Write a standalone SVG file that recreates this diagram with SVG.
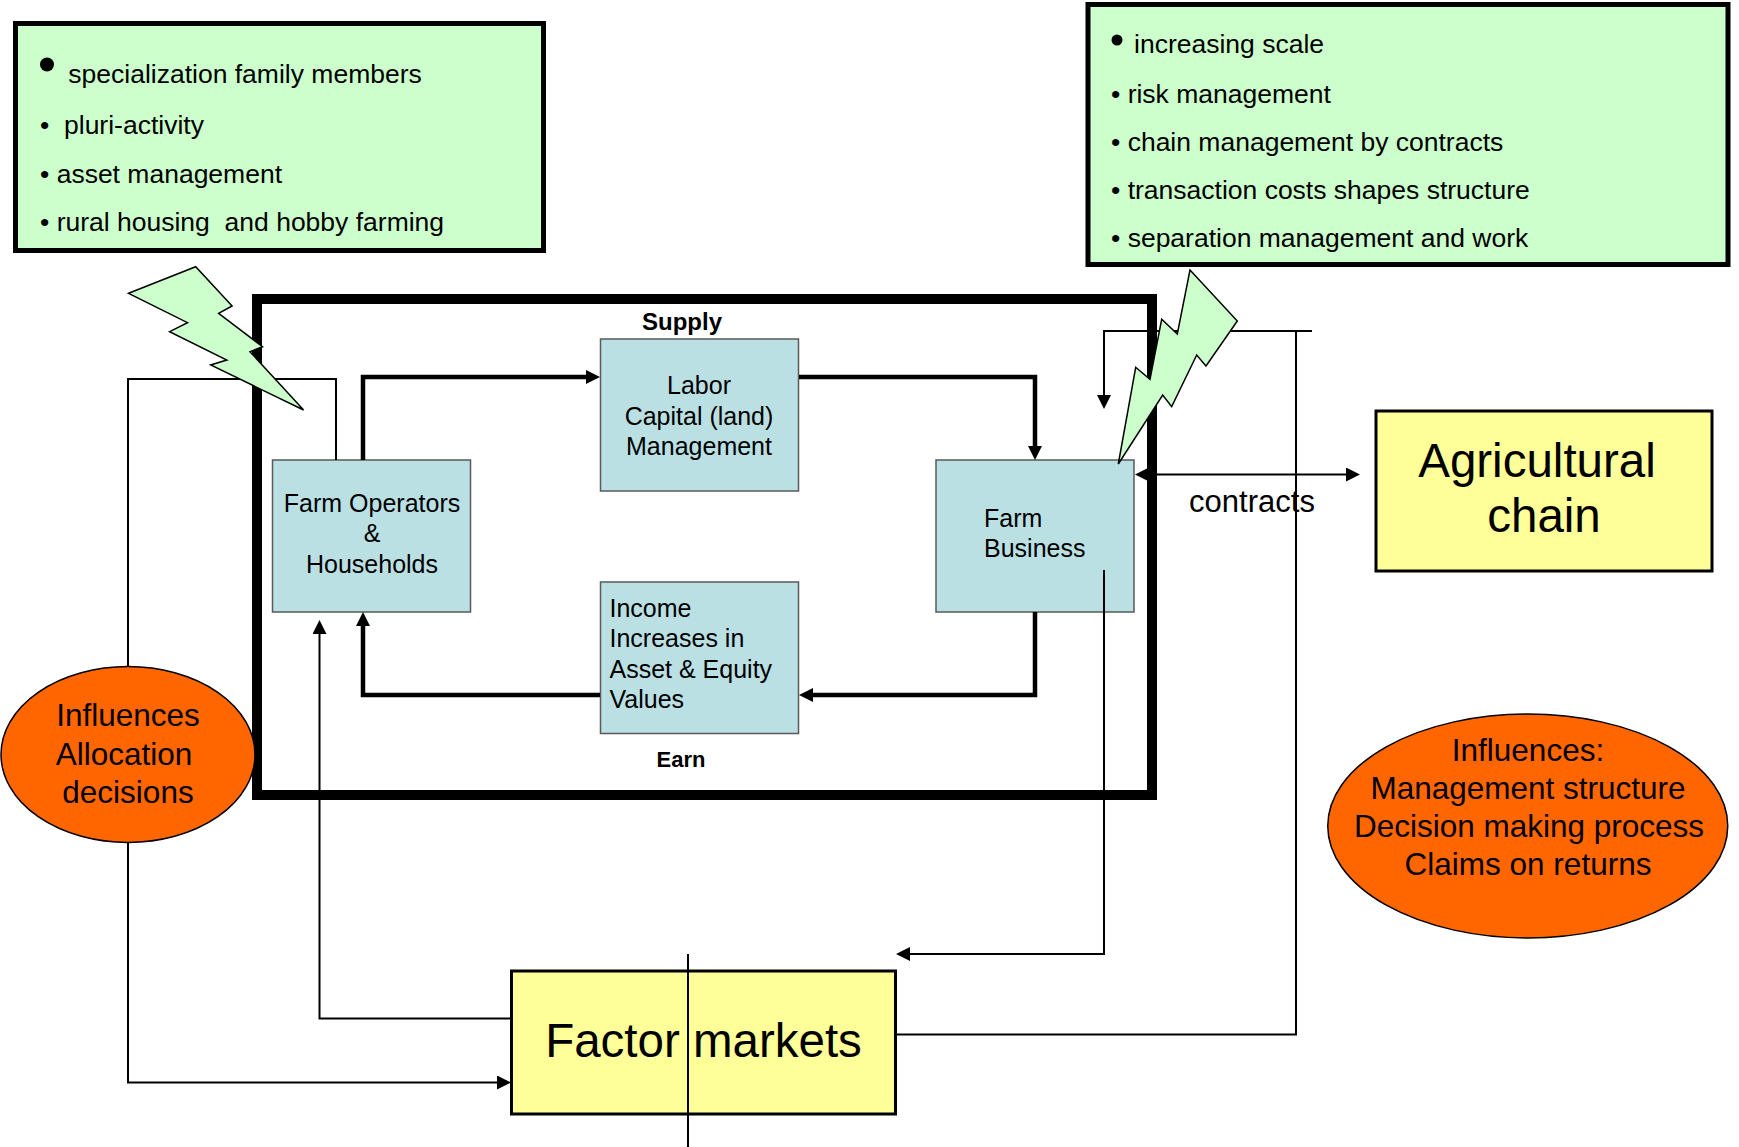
<svg xmlns="http://www.w3.org/2000/svg" width="1739" height="1147" viewBox="0 0 1739 1147">
<style>
.t{font-family:"Liberation Sans",Arial,sans-serif;fill:#000}
.list{font-size:26.5px}
.nt{font-size:25px}
.big{font-size:47.5px}
.ell{font-size:31.5px}
.box{fill:#BBE0E3;stroke:#5a5a5a;stroke-width:1.5}
.thick{fill:none;stroke:#000;stroke-width:4.5}
.thin{fill:none;stroke:#000;stroke-width:2}
.green{fill:#CCFFCC;stroke:#000;stroke-width:5}
.bolt{fill:#CCFFCC;stroke:#000;stroke-width:1.5}
.yellow{fill:#FFFF99;stroke:#000;stroke-width:3}
.orange{fill:#FF6600;stroke:#000;stroke-width:1.5}
</style>
<defs>
<marker id="ah" viewBox="0 -7 14 14" refX="0" refY="0" markerWidth="14" markerHeight="14" markerUnits="userSpaceOnUse" orient="auto-start-reverse"><path d="M0,-7 L14,0 L0,7 z" fill="#000"/></marker>
</defs>
<rect width="1739" height="1147" fill="#fff"/>

<g id="frame">
<rect x="257" y="299" width="895" height="496" fill="none" stroke="#000" stroke-width="10"/>
<text class="t" x="682" y="330" font-size="24" font-weight="bold" text-anchor="middle">Supply</text>
<text class="t" x="681" y="767" font-size="22" font-weight="bold" text-anchor="middle">Earn</text>
</g>

<g id="farm-operators">
<rect class="box" x="272.5" y="460" width="198" height="152"/>
<text class="t nt" text-anchor="middle"><tspan x="372" y="511.5">Farm Operators</tspan><tspan x="372" y="542">&amp;</tspan><tspan x="372" y="572.5">Households</tspan></text>
</g>
<g id="labor">
<rect class="box" x="600.5" y="339" width="198" height="152"/>
<text class="t nt" text-anchor="middle"><tspan x="699" y="394">Labor</tspan><tspan x="699" y="424.5">Capital (land)</tspan><tspan x="699" y="454.5">Management</tspan></text>
</g>
<g id="farm-business">
<rect class="box" x="936" y="460" width="198" height="152"/>
<text class="t nt"><tspan x="984" y="527">Farm</tspan><tspan x="984" y="557">Business</tspan></text>
</g>
<g id="income">
<rect class="box" x="600.5" y="582" width="198" height="151.5"/>
<text class="t nt"><tspan x="609.5" y="616.5">Income</tspan><tspan x="609.5" y="647">Increases in</tspan><tspan x="609.5" y="677.5">Asset &amp; Equity</tspan><tspan x="609.5" y="707.5">Values</tspan></text>
</g>

<g id="connectors">
<path class="thick" d="M363,460 V377 H586" marker-end="url(#ah)"/>
<path class="thick" d="M799,377 H1035 V446" marker-end="url(#ah)"/>
<path class="thick" d="M1035,612 V695 H813" marker-end="url(#ah)"/>
<path class="thick" d="M600,695 H363 V626" marker-end="url(#ah)"/>
<path class="thin" d="M336,460 V379 H128 V666.5"/>
<path class="thin" d="M128,843 V1082.5 H497" marker-end="url(#ah)"/>
<path class="thin" d="M511,1018.5 H319.5 V634" marker-end="url(#ah)"/>
<path class="thin" d="M1104,570 V954 H910" marker-end="url(#ah)"/>
<path class="thin" d="M896,1034.5 H1296 V331"/>
<path class="thin" d="M1312,331 H1104 V395" marker-end="url(#ah)"/>
<path class="thin" d="M1149,474.5 H1346" marker-start="url(#ah)" marker-end="url(#ah)"/>
<text class="t" x="1252" y="511.5" font-size="31" text-anchor="middle">contracts</text>
</g>

<g id="factor-markets">
<rect class="yellow" x="511.5" y="971" width="384" height="143"/>
<text class="t big" x="703.5" y="1056.5" text-anchor="middle">Factor markets</text>
</g>
<path class="thin" d="M688,954 V1147"/>

<g id="agricultural-chain">
<rect class="yellow" x="1376" y="411" width="336" height="160"/>
<text class="t big" text-anchor="middle"><tspan x="1537" y="477">Agricultural</tspan><tspan x="1544" y="531.5">chain</tspan></text>
</g>

<g id="influences-allocation">
<ellipse class="orange" cx="128" cy="754.5" rx="127" ry="88"/>
<text class="t ell" text-anchor="middle"><tspan x="128" y="726">Influences</tspan><tspan x="124" y="765">Allocation</tspan><tspan x="128" y="802.5">decisions</tspan></text>
</g>

<g id="influences-management">
<ellipse class="orange" cx="1527.75" cy="826" rx="200" ry="112"/>
<text class="t" font-size="31.5" text-anchor="middle"><tspan x="1528" y="761">Influences:</tspan><tspan x="1528" y="799">Management structure</tspan><tspan x="1529" y="837">Decision making process</tspan><tspan x="1528" y="874.5">Claims on returns</tspan></text>
</g>

<g id="household-strategies">
<rect class="green" x="15.5" y="23.5" width="528" height="227"/>
<circle cx="47" cy="64.5" r="7" fill="#000"/>
<text class="t list" x="68.3" y="83">specialization family members</text>
<text class="t list" x="40" y="134" xml:space="preserve">•  pluri-activity</text>
<text class="t list" x="40" y="183" xml:space="preserve">• asset management</text>
<text class="t list" x="40" y="231" xml:space="preserve">• rural housing  and hobby farming</text>
</g>

<g id="business-strategies">
<rect class="green" x="1088" y="4.5" width="640" height="260"/>
<circle cx="1117" cy="40" r="5.5" fill="#000"/>
<text class="t list" x="1134" y="53">increasing scale</text>
<text class="t list" x="1111" y="102.5" xml:space="preserve">• risk management</text>
<text class="t list" x="1111" y="151" xml:space="preserve">• chain management by contracts</text>
<text class="t list" x="1111" y="199" xml:space="preserve">• transaction costs shapes structure</text>
<text class="t list" x="1111" y="246.5" xml:space="preserve">• separation management and work</text>
</g>

<g id="bolt-left">
<polygon class="bolt" points="128.6,293.3 195.7,266.7 232.1,306 218.6,313.3 262.5,346.7 250,351.7 303.6,410 210.7,365 226.8,360 169.6,331.7 187.5,322.7"/>
</g>
<g id="bolt-right">
<polygon class="bolt" points="1190,270 1237.3,321 1206,366 1196.7,355 1171.7,406.7 1162.7,395 1118.3,464 1135.7,367.3 1150,379.3 1161.7,319.3 1177.3,334"/>
</g>
</svg>
